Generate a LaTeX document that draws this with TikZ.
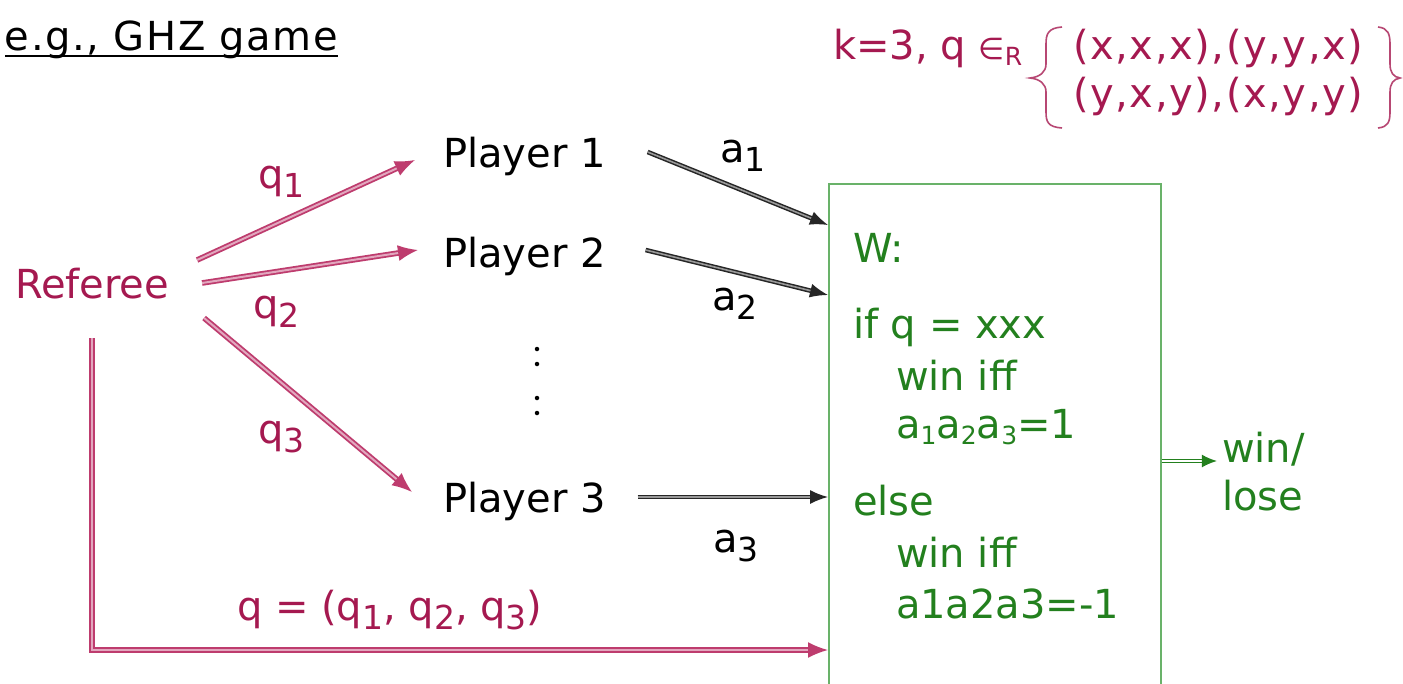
\documentclass[tikz,border=0pt]{standalone}
\usepackage{fontspec}
\setmainfont{DejaVu Sans}
\usetikzlibrary{arrows.meta,calc}
\definecolor{refc}{RGB}{165,25,80}
\definecolor{qarr}{RGB}{190,60,110}
\definecolor{wgreen}{RGB}{35,128,30}
\definecolor{boxg}{RGB}{105,178,105}
\newcommand{\sbx}[1]{\raisebox{-9pt}{\fontsize{33}{33}\selectfont #1}}
\newcommand{\ssb}[1]{\raisebox{-6pt}{\fontsize{25}{25}\selectfont #1}}
\begin{document}
\begin{tikzpicture}[x=1pt,y=-1pt,
  font=\fontsize{40}{48}\selectfont,
  txt/.style={anchor=base west, inner sep=0pt, outer sep=0pt},
  qarrow/.style={draw=qarr, double=qarr!45, line width=1.8pt, double distance=2pt,
     -{Latex[length=20pt,width=16pt]}},
  aarrow/.style={draw=black!85, double=black!40, line width=1.5pt, double distance=1.6pt,
     -{Latex[length=18pt,width=14pt]}},
  garrow/.style={draw=wgreen, double=white, line width=1.3pt, double distance=1.6pt,
     -{Latex[length=15pt,width=13pt]}},
  dotc/.style={fill=black, circle, inner sep=0pt, minimum size=4.5pt}]
\useasboundingbox (0,0) rectangle (1403,683);
\fill[white] (0,0) rectangle (1403,683);

% title
\node[txt] (title) at (5,50) {\addfontfeatures{LetterSpace=4}e.g., GHZ game};
\draw[line width=1.6pt] (title.base west)+(0,6) -- ([yshift=-6pt]title.base east);

% set
\node[txt, text=refc] (k) at (833,59) {k=3, q \raisebox{0pt}{\fontsize{30}{30}\selectfont ∈}\ssb{R}};
\node[txt, text=refc] (s1) at (1073,59) {\addfontfeatures{LetterSpace=4}(x,x,x),(y,y,x)};
\node[txt, text=refc] (s2) at (1073,107) {\addfontfeatures{LetterSpace=4}(y,x,y),(x,y,y)};
\draw[refc!80, line width=1.6pt]
  (1062,27) .. controls (1048,28) and (1046,34) .. (1046,44) -- (1046,64)
  .. controls (1046,72) and (1040,77) .. (1030,78)
  .. controls (1040,79) and (1046,84) .. (1046,92) -- (1046,112)
  .. controls (1046,122) and (1048,127) .. (1062,128);
\draw[refc!80, line width=1.6pt]
  (1378,27) .. controls (1388,28) and (1390,34) .. (1390,44) -- (1390,64)
  .. controls (1390,72) and (1393,77) .. (1400,78)
  .. controls (1393,79) and (1390,84) .. (1390,92) -- (1390,112)
  .. controls (1390,122) and (1388,127) .. (1378,128);

% referee and players
\node[txt, text=refc] (ref) at (15,298) {Referee};
\node[txt] (p1) at (443,167) {Player 1};
\node[txt] (p2) at (443,267) {Player 2};
\node[txt] (p3) at (443,512) {Player 3};
\node[dotc] (d1) at (537,349) {};
\node[dotc] (d2) at (537,364) {};
\node[dotc] (d3) at (537,398) {};
\node[dotc] (d4) at (537,413) {};

% W box
\node[draw=boxg, line width=1.8pt, minimum width=332pt, minimum height=520pt,
      inner sep=0pt, anchor=north west] (W) at (828,183) {};
\begin{scope}[text=wgreen]
\node[txt] (w0) at (853,262) {W:};
\node[txt] (w1) at (853,338) {if q = xxx};
\node[txt] (w2) at (896,390) {win iff};
\node[txt] (w3) at (896,438) {a\ssb{1}a\ssb{2}a\ssb{3}=1};
\node[txt] (w4) at (853,515) {else};
\node[txt] (w5) at (896,567) {win iff};
\node[txt] (w6) at (896,618) {a1a2a3=-1};
\node[txt] (wl1) at (1222,462) {win/};
\node[txt] (wl2) at (1222,510) {lose};
\end{scope}

% coordinates
\coordinate (r1) at ($(ref.base east)+(28,-38)$);
\coordinate (r2) at ($(ref.base east)+(33,-15)$);
\coordinate (r3) at ($(ref.base east)+(35,20)$);
\coordinate (rb) at ($(ref.base west)+(77,40)$);
\coordinate (e1) at ($(p1.base west)+(-28,-7)$);
\coordinate (e2) at ($(p2.base west)+(-25,-17)$);
\coordinate (e3) at ($(p3.base west)+(-31,-20)$);
\coordinate (a1s) at ($(p1.base east)+(42,-15)$);
\coordinate (a2s) at ($(p2.base east)+(40,-17)$);
\coordinate (a3s) at ($(p3.base east)+(32,-15)$);
\coordinate (a1e) at ($(W.north west)+(0,42)$);
\coordinate (a2e) at ($(W.north west)+(0,112)$);
\coordinate (a3e) at ($(W.north west)+(0,314)$);
\coordinate (be) at ($(W.north west)+(0,467)$);
\coordinate (os) at ($(W.north east)+(0,278)$);
\coordinate (oe) at ($(W.north east)+(55,278)$);

% arrows
\draw[qarrow] (r1) -- (e1);
\draw[qarrow] (r2) -- (e2);
\draw[qarrow] (r3) -- (e3);
\draw[qarrow] (rb) |- (be);
\draw[aarrow] (a1s) -- (a1e);
\draw[aarrow] (a2s) -- (a2e);
\draw[aarrow] (a3s) -- (a3e);
\draw[garrow] (os) -- (oe);

% labels
\begin{scope}[text=refc]
\node[txt] (lq1) at (258,188) {q\sbx{1}};
\node[txt] (lq2) at (253,318) {q\sbx{2}};
\node[txt] (lq3) at (258,443) {q\sbx{3}};
\node[txt] (lq) at (237,620) {q = (q\sbx{1}, q\sbx{2}, q\sbx{3})};
\end{scope}
\node[txt] (la1) at (720,162) {a\sbx{1}};
\node[txt] (la2) at (712,310) {a\sbx{2}};
\node[txt] (la3) at (713,552) {a\sbx{3}};
\end{tikzpicture}
\end{document}
